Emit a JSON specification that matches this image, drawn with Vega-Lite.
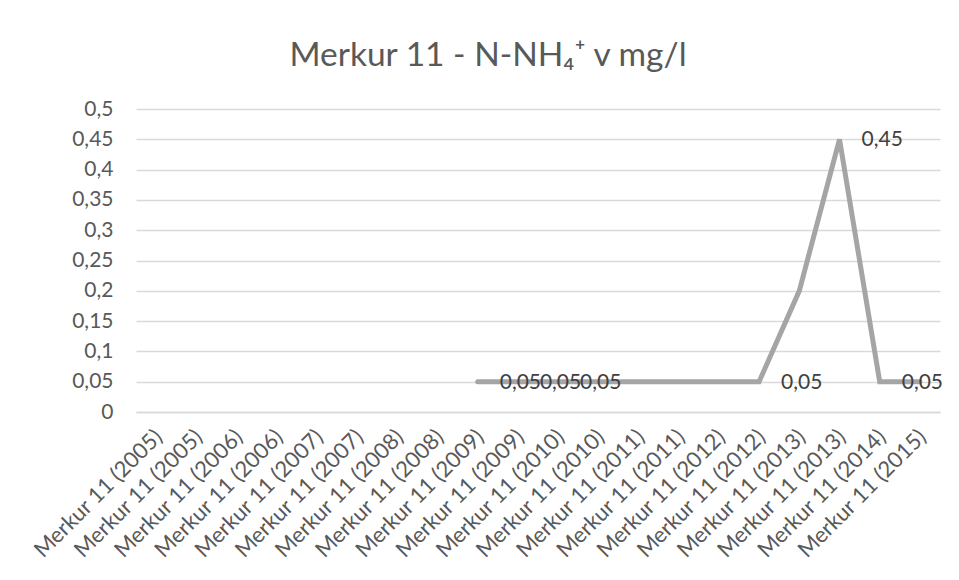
{
  "$schema": "https://vega.github.io/schema/vega-lite/v6.json",
  "width": 804,
  "height": 303,
  "autosize": "none",
  "padding": {"left": 136, "top": 109, "right": 19, "bottom": 168},
  "background": "white",
  "title": {
    "text": "Merkur 11 - N-NH₄⁺ v mg/l",
    "font": "Lato",
    "fontSize": 33.5,
    "fontWeight": "normal",
    "color": "#595959",
    "anchor": "middle",
    "dx": -50,
    "offset": 25
  },
  "data": {
    "values": [
      {"kat": "Merkur 11 (2005)#1", "value": null, "label": false},
      {"kat": "Merkur 11 (2005)#2", "value": null, "label": false},
      {"kat": "Merkur 11 (2006)#1", "value": null, "label": false},
      {"kat": "Merkur 11 (2006)#2", "value": null, "label": false},
      {"kat": "Merkur 11 (2007)#1", "value": null, "label": false},
      {"kat": "Merkur 11 (2007)#2", "value": null, "label": false},
      {"kat": "Merkur 11 (2008)#1", "value": null, "label": false},
      {"kat": "Merkur 11 (2008)#2", "value": null, "label": false},
      {"kat": "Merkur 11 (2009)#1", "value": 0.05, "label": true},
      {"kat": "Merkur 11 (2009)#2", "value": 0.05, "label": true},
      {"kat": "Merkur 11 (2010)#1", "value": 0.05, "label": true},
      {"kat": "Merkur 11 (2010)#2", "value": 0.05, "label": false},
      {"kat": "Merkur 11 (2011)#1", "value": 0.05, "label": false},
      {"kat": "Merkur 11 (2011)#2", "value": 0.05, "label": false},
      {"kat": "Merkur 11 (2012)#1", "value": 0.05, "label": false},
      {"kat": "Merkur 11 (2012)#2", "value": 0.05, "label": true},
      {"kat": "Merkur 11 (2013)#1", "value": 0.2, "label": false},
      {"kat": "Merkur 11 (2013)#2", "value": 0.45, "label": true},
      {"kat": "Merkur 11 (2014)#1", "value": 0.05, "label": true},
      {"kat": "Merkur 11 (2015)#1", "value": 0.05, "label": false}
    ]
  },
  "encoding": {
    "x": {
      "field": "kat",
      "type": "ordinal",
      "sort": null,
      "scale": {"type": "point", "padding": 0.5},
      "axis": {
        "title": null,
        "labelExpr": "split(datum.value, '#')[0]",
        "labelAngle": -45,
        "labelAlign": "right",
        "labelBaseline": "middle",
        "labelFont": "Lato",
        "labelFontSize": 22,
        "labelColor": "#595959",
        "labelPadding": 21,
        "labelOffset": 2,
        "labelOverlap": false,
        "ticks": false,
        "domain": true,
        "domainColor": "#d9d9d9",
        "domainWidth": 1.3,
        "grid": false
      }
    },
    "y": {
      "field": "value",
      "type": "quantitative",
      "scale": {"domain": [0, 0.5], "nice": false},
      "axis": {
        "title": null,
        "format": "~g",
        "values": [0, 0.05, 0.1, 0.15, 0.2, 0.25, 0.3, 0.35, 0.4, 0.45, 0.5],
        "labelFont": "Lato",
        "labelFontSize": 21,
        "labelColor": "#595959",
        "labelPadding": 23,
        "ticks": false,
        "domain": false,
        "grid": true,
        "gridColor": "#d9d9d9",
        "gridWidth": 1.3
      }
    }
  },
  "layer": [
    {
      "mark": {
        "type": "line",
        "color": "#a5a5a5",
        "strokeWidth": 5,
        "strokeCap": "round",
        "invalid": "break-paths-show-domains"
      }
    },
    {
      "transform": [{"filter": "datum.label"}],
      "mark": {
        "type": "text",
        "align": "left",
        "baseline": "middle",
        "dx": 22,
        "dy": 1,
        "font": "Lato",
        "fontSize": 21,
        "color": "#404040"
      },
      "encoding": {
        "text": {"field": "value", "type": "quantitative", "format": "~g"}
      }
    }
  ],
  "config": {
    "view": {"stroke": null},
    "locale": {"number": {"decimal": ",", "thousands": ".", "grouping": [3], "currency": ["", " €"]}}
  }
}
